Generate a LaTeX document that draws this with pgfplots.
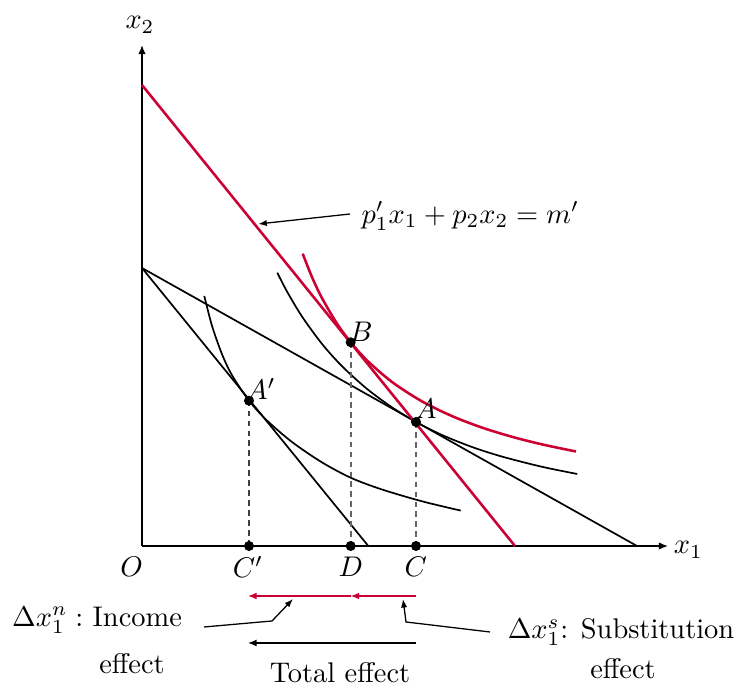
\documentclass[border=0pt]{standalone}
\usepackage{pgfplots}
\pgfplotsset{compat=1.18}
\usetikzlibrary{arrows.meta}
\definecolor{bred}{RGB}{204,0,51}
\definecolor{dgray}{RGB}{100,100,100}
\begin{document}
\begin{tikzpicture}[every node/.style={inner sep=0pt}]
\begin{axis}[
  x=0.352pt, y=0.352pt,
  xmin=0, xmax=526, ymin=0, ymax=501,
  axis lines=left,
  axis line style={line width=0.5pt, -{Latex[length=3.2pt,width=2.6pt]}},
  xtick=\empty, ytick=\empty,
  clip=false,
]
% bounding box
\path (axis cs:-142,-140) rectangle (axis cs:595,546);
% original budget line and new (steeper) budget line
\addplot[black, line width=0.6pt] coordinates {(0,278) (495,0)};
\addplot[black, line width=0.6pt] coordinates {(0,278) (226.3,0)};
% indifference curve through A
\addplot[black, line width=0.6pt, smooth] coordinates {
(135.3,273.3) (145,254.5) (160,229.5) (180,202.1) (200,179.8) (225,157.1) (250,138.7) (274,124.0)
(300,111.0) (330,99.0) (360,89.4) (400,79.2) (435.3,72.0)};
% indifference curve through A'
\addplot[black, line width=0.6pt, smooth] coordinates {
(62.3,250.0) (70,220.2) (80,191.8) (90,170.8) (107,145.3)
(125,125.5) (150,104.0) (180,83.6) (209.3,68.0) (240,56.5) (280,44.7) (318.7,35.4)};
% compensated budget line
\addplot[bred, line width=0.9pt] coordinates {(0,461) (373,0)};
% indifference curve through B
\addplot[bred, line width=0.9pt, smooth] coordinates {
(160.7,292.3) (170,268.9) (180,247.9) (195,222.4) (208.7,203.7) (225,185.6) (250,164.0)
(280,144.6) (310,129.9) (340,118.4) (370,109.2) (400,101.6) (434,94.5)};
% dashed drop lines
\addplot[black!75, line width=0.55pt, dash pattern=on 2pt off 1.5pt] coordinates {(107,145.3) (107,0)};
\addplot[dgray, line width=0.6pt, dash pattern=on 2pt off 1.5pt] coordinates {(208.7,203.7) (208.7,0)};
\addplot[dgray, line width=0.6pt, dash pattern=on 2pt off 1.5pt] coordinates {(274,124) (274,0)};
% points
\addplot[only marks, mark=*, mark size=1.55pt, black] coordinates {
(274,124) (208.7,203.7) (107,145.3) (107,0) (208.7,0) (274,0)};
% effect arrows
\addplot[bred, line width=0.45pt, -{Latex[length=3pt,width=2.4pt]}] coordinates {(274,-50) (208.7,-50)};
\addplot[bred, line width=0.45pt, -{Latex[length=3pt,width=2.4pt]}] coordinates {(208.7,-50) (106,-50)};
\addplot[black, line width=0.45pt, -{Latex[length=3pt,width=2.4pt]}] coordinates {(274,-97) (106,-97)};
% annotation pointers
\addplot[black, line width=0.45pt, -{Latex[length=3pt,width=2.2pt]}] coordinates {(62,-81) (130,-75) (151,-53)};
\addplot[black, line width=0.45pt, -{Latex[length=3pt,width=2.2pt]}] coordinates {(348,-86) (264,-76) (261,-53)};
\addplot[black, line width=0.45pt, -{Latex[length=3pt,width=2.2pt]}] coordinates {(208,332) (116.3,322)};
% labels
\node at (axis cs:284,137) {$A$};
\node at (axis cs:219,214.3) {$B$};
\node at (axis cs:119,157) {$A'$};
\node at (axis cs:-10.3,-21.3) {$O$};
\node at (axis cs:106,-21.3) {$C'$};
\node at (axis cs:208.7,-21.3) {$D$};
\node at (axis cs:273.7,-21.3) {$C$};
\node at (axis cs:546.3,-4) {$x_1$};
\node at (axis cs:-2,521) {$x_2$};
\node[anchor=west] at (axis cs:219,330) {$p_1'x_1+p_2x_2=m'$};
\node at (axis cs:-45,-74) {$\Delta x_1^n:$ Income};
\node at (axis cs:-10,-118) {effect};
\node at (axis cs:479,-86) {$\Delta x_1^s$: Substitution};
\node at (axis cs:481,-123) {effect};
\node at (axis cs:198,-127) {Total effect};
\end{axis}
\end{tikzpicture}
\end{document}
